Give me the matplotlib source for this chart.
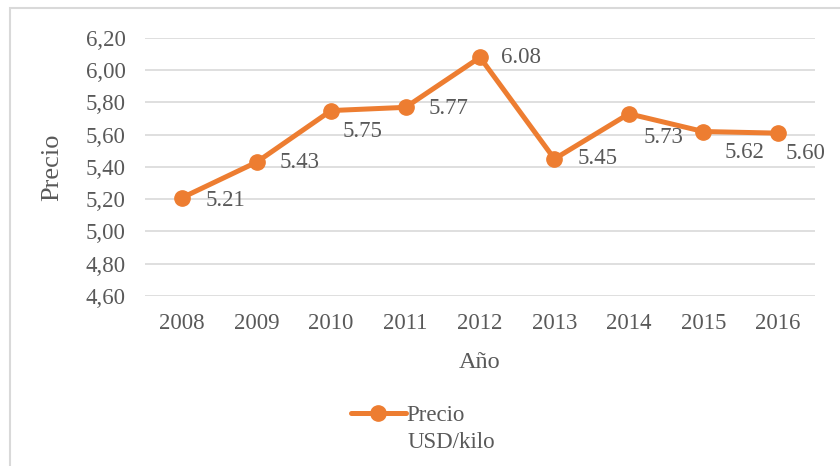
import matplotlib
matplotlib.use("Agg")
from matplotlib import pyplot as plt
from matplotlib.patches import Rectangle

years = ["2008", "2009", "2010", "2011", "2012", "2013", "2014", "2015", "2016"]
precio = [5.21, 5.43, 5.75, 5.77, 6.08, 5.45, 5.73, 5.62, 5.61]
etiquetas = ["5.21", "5.43", "5.75", "5.77", "6.08", "5.45", "5.73", "5.62", "5.60"]
yticks = [4.60, 4.80, 5.00, 5.20, 5.40, 5.60, 5.80, 6.00, 6.20]

# label placement (pixels right, pixels down) as Excel put them
label_offsets = [(23, 3), (23, 0), (11, 21), (23, 1), (21, 0),
                 (23, 0), (15, 24), (21, 21), (8, 20)]

plt.rcParams["font.family"] = ["Liberation Serif", "DejaVu Serif"]
grey = "#595959"
orange = "#ED7D31"

W, H = 840, 466
fig = plt.figure(figsize=(W / 100, H / 100), dpi=100)
ax = fig.add_axes([145 / W, 1 - 296 / H, 670 / W, 258 / H])

# outer frame of the chart
fig.patches.append(Rectangle((10 / W, -0.1), 1.2, 1 - 8 / H + 0.1,
                             transform=fig.transFigure, fill=False,
                             edgecolor="#d9d9d9", linewidth=1.5))

x = list(range(len(years)))
line, = ax.plot(x, precio, color=orange, linewidth=3.6, marker="o",
                markersize=11, solid_capstyle="round", zorder=3)
for xi, yi, lab, (dx, dy) in zip(x, precio, etiquetas, label_offsets):
    ax.annotate(lab, (xi, yi), xytext=(dx * 0.72, -dy * 0.72),
                textcoords="offset points", ha="left", va="center",
                fontsize=16.5, color=grey)

ax.set_xlim(-0.5, len(years) - 0.5)
ax.set_ylim(4.60, 6.20)
ax.set_yticks(yticks)
ax.set_yticklabels(["{:.2f}".format(v).replace(".", ",") for v in yticks])
ax.set_xticks(x)
ax.set_xticklabels(years)
ax.tick_params(length=0, labelsize=16.5, labelcolor=grey, pad=14)
ax.tick_params(axis="x", pad=12)
ax.grid(axis="y", color="#d9d9d9", linewidth=1.2)
ax.set_axisbelow(True)
for s in ax.spines.values():
    s.set_visible(False)

ax.set_ylabel("Precio", fontsize=19, color=grey, labelpad=16)
ax.set_xlabel("Año", fontsize=17.5, color=grey, labelpad=13)

fig.legend([line], ["Precio"], loc="center left",
           bbox_to_anchor=(330 / W, 1 - 415 / H), frameon=False,
           fontsize=16.5, labelcolor=grey, handlelength=2.4,
           handletextpad=0.05)
fig.text(408 / W, 1 - 443 / H, "USD/kilo", fontsize=16.5, color=grey,
         ha="left", va="center")

fig.savefig("out.png", dpi=100)
